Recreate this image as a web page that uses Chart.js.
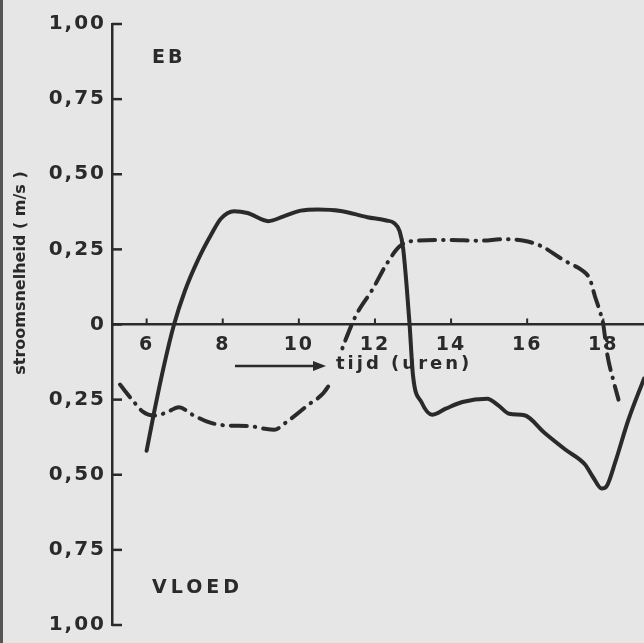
<!DOCTYPE html>
<html>
<head>
<meta charset="utf-8">
<script src="https://cdn.jsdelivr.net/npm/chart.js@4.4.1/dist/chart.umd.min.js"></script>
<style>
  html, body { margin: 0; padding: 0; background: #e6e6e6; }
  #wrap { width: 644px; height: 643px; }
</style>
</head>
<body>
<div id="wrap"><canvas id="chart" width="644" height="643"></canvas></div>
<script>
/* ---------- data ---------- */

// time (hours) and current speed (m/s), solid curve
const solidTime = [6.0, 6.2, 6.45, 6.72, 7.0, 7.35, 7.7, 7.95, 8.3, 8.65, 9.2, 9.6, 10.05, 10.5, 11.1, 11.8, 12.3, 12.5, 12.65, 12.74, 12.83, 12.91, 13.0, 13.22, 13.5, 13.86, 14.3, 14.95, 15.25, 15.53, 15.93, 16.46, 17.0, 17.52, 17.74, 17.96, 18.09, 18.31, 18.66, 19.07];
const solidSpeed = [-0.42, -0.29, -0.14, 0, 0.11, 0.215, 0.3, 0.352, 0.377, 0.371, 0.344, 0.36, 0.379, 0.383, 0.378, 0.357, 0.346, 0.338, 0.31, 0.254, 0.132, 0, -0.17, -0.258, -0.3, -0.28, -0.258, -0.247, -0.27, -0.297, -0.302, -0.361, -0.416, -0.466, -0.51, -0.546, -0.538, -0.46, -0.317, -0.18];

// dash-dot curve
const dashTime = [5.3, 5.65, 5.9, 6.2, 6.5, 6.85, 7.2, 7.65, 8.1, 8.7, 9.15, 9.35, 9.7, 10.2, 10.8, 11.2, 11.5, 11.95, 12.3, 12.65, 13.0, 13.9, 14.75, 15.4, 15.95, 16.4, 16.85, 17.1, 17.45, 17.65, 17.78, 17.91, 18.0, 18.1, 18.26, 18.4];
const dashSpeed = [-0.2, -0.255, -0.29, -0.303, -0.294, -0.275, -0.3, -0.326, -0.336, -0.338, -0.348, -0.35, -0.322, -0.272, -0.2, -0.06, 0.03, 0.12, 0.2, 0.26, 0.278, 0.281, 0.279, 0.284, 0.278, 0.259, 0.223, 0.204, 0.18, 0.15, 0.094, 0.044, 0, -0.096, -0.184, -0.25];

const xTicks = [6, 8, 10, 12, 14, 16, 18];
const yTicks = [-1, -0.75, -0.5, -0.25, 0, 0.25, 0.5, 0.75, 1];

const INK = "#2a2a2a";
const BG = "#e6e6e6";

function toPoints(xs, ys) {
  return xs.map((x, i) => ({ x: x, y: ys[i] }));
}

/* ---------- extra drawing: background, tick marks, texts ---------- */

const paperPlugin = {
  id: "paper",
  beforeDraw(chart) {
    const ctx = chart.ctx;
    ctx.save();
    ctx.fillStyle = BG;
    ctx.fillRect(0, 0, chart.width, chart.height);
    // dark scan edge on the left
    ctx.fillStyle = "#555";
    ctx.fillRect(0, 0, 3, chart.height);
    ctx.restore();
    ctx.letterSpacing = "2px";
  },
  afterDraw(chart) {
    const ctx = chart.ctx;
    const xs = chart.scales.x;
    const ys = chart.scales.y;
    const left = chart.chartArea.left;
    const zeroY = ys.getPixelForValue(0);

    ctx.save();
    ctx.strokeStyle = INK;
    ctx.fillStyle = INK;
    ctx.lineWidth = 2.5;

    // y tick marks pointing inwards
    yTicks.forEach(v => {
      const py = ys.getPixelForValue(v);
      ctx.beginPath();
      ctx.moveTo(left, py);
      ctx.lineTo(left + 10, py);
      ctx.stroke();
    });
    // x tick marks pointing up
    ctx.lineWidth = 2;
    xTicks.forEach(v => {
      const px = xs.getPixelForValue(v);
      ctx.beginPath();
      ctx.moveTo(px, zeroY);
      ctx.lineTo(px, zeroY - 6);
      ctx.stroke();
    });

    // the label "tijd" breaks the dash-dot line
    ctx.fillStyle = BG;
    ctx.fillRect(328, 353, 34, 30);
    ctx.fillStyle = INK;

    // arrow for the time axis
    ctx.lineWidth = 2.5;
    ctx.beginPath();
    ctx.moveTo(235, 366);
    ctx.lineTo(316, 366);
    ctx.stroke();
    ctx.beginPath();
    ctx.moveTo(326, 366);
    ctx.lineTo(313, 361);
    ctx.lineTo(313, 371);
    ctx.closePath();
    ctx.fill();

    // labels
    ctx.textBaseline = "middle";
    ctx.textAlign = "left";
    ctx.font = "bold 19px 'DejaVu Sans'";
    ctx.letterSpacing = "3px";
    ctx.fillText("EB", 152, 58);
    ctx.letterSpacing = "4px";
    ctx.fillText("VLOED", 152, 588);
    ctx.letterSpacing = "3px";
    ctx.font = "bold 18px 'DejaVu Sans'";
    ctx.fillText("tijd (uren)", 336, 364);

    // y axis title
    ctx.letterSpacing = "0px";
    ctx.translate(21, 273);
    ctx.rotate(-Math.PI / 2);
    ctx.textAlign = "center";
    ctx.font = "bold 16px 'DejaVu Sans'";
    ctx.fillText("stroomsnelheid ( m/s )", 0, 0);
    ctx.restore();
  }
};

/* ---------- chart ---------- */

new Chart(document.getElementById("chart"), {
  type: "line",
  data: {
    datasets: [
      {
        label: "doorgetrokken",
        data: toPoints(solidTime, solidSpeed),
        borderColor: INK,
        borderWidth: 4,
        pointRadius: 0,
        cubicInterpolationMode: "monotone",
        borderCapStyle: "round",
        borderJoinStyle: "round"
      },
      {
        label: "streep-punt",
        data: toPoints(dashTime, dashSpeed),
        borderColor: INK,
        borderWidth: 4,
        borderDash: [16, 8, 0.5, 8],
        borderCapStyle: "round",
        pointRadius: 0,
        cubicInterpolationMode: "monotone"
      }
    ]
  },
  options: {
    responsive: false,
    animation: false,
    layout: { padding: { top: 24, bottom: 15, left: 0, right: 0 } },
    plugins: {
      legend: { display: false },
      tooltip: { enabled: false }
    },
    scales: {
      x: {
        type: "linear",
        min: 5.09,
        max: 19.07,
        position: { y: 0 },
        afterBuildTicks: s => { s.ticks = xTicks.map(v => ({ value: v })); },
        grid: { display: false, drawTicks: false },
        border: { color: INK, width: 2.5 },
        ticks: {
          color: INK,
          padding: 9,
          maxRotation: 0,
          font: { family: "DejaVu Sans", size: 19, weight: "bold" },
          callback: v => String(v)
        }
      },
      y: {
        type: "linear",
        min: -1,
        max: 1,
        afterFit: s => { s.width = 112; },
        afterBuildTicks: s => { s.ticks = yTicks.map(v => ({ value: v })); },
        grid: { display: false, drawTicks: false },
        border: { color: INK, width: 2.5 },
        ticks: {
          color: INK,
          padding: 6,
          font: { family: "DejaVu Sans", size: 20, weight: "bold" },
          callback: v => v === 0 ? "0" : Math.abs(v).toFixed(2).replace(".", ",")
        }
      }
    }
  },
  plugins: [paperPlugin]
});
</script>
</body>
</html>
